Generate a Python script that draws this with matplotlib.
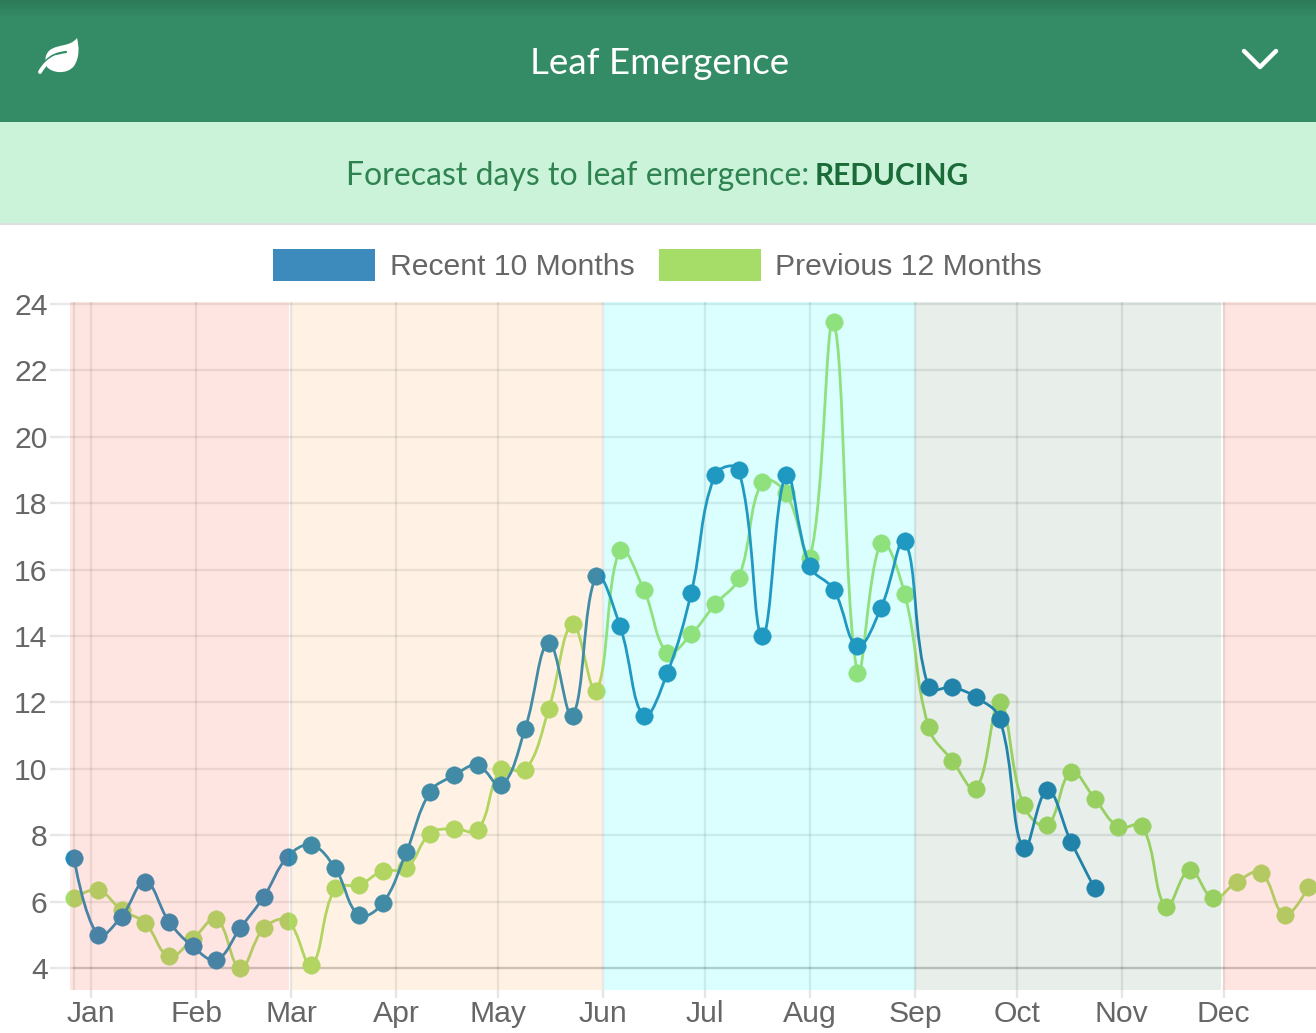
import numpy as np
import matplotlib
matplotlib.use("Agg")
import matplotlib.pyplot as plt
from matplotlib.colors import LinearSegmentedColormap
from matplotlib.patches import Patch, PathPatch, Rectangle
from matplotlib.path import Path

W, H = 1316, 1033

months = ["Jan", "Feb", "Mar", "Apr", "May", "Jun", "Jul", "Aug", "Sep", "Oct", "Nov", "Dec"]
month_days = [0, 31, 59, 90, 120, 151, 181, 212, 243, 273, 304, 334]
y_ticks = [4, 6, 8, 10, 12, 14, 16, 18, 20, 22, 24]

# weekly readings, first one is 5 days before 1 Jan
first_day = -5
recent = [7.31, 5.0, 5.55, 6.6, 5.4, 4.65, 4.25, 5.2, 6.15, 7.35, 7.7, 7.0, 5.6, 5.95, 7.5,
          9.3, 9.8, 10.1, 9.5, 11.2, 13.8, 11.6, 15.8, 14.3, 11.6, 12.9, 15.3, 18.85, 19.0,
          14.0, 18.85, 16.1, 15.4, 13.7, 14.85, 16.85, 12.45, 12.45, 12.15, 11.5, 7.6, 9.35,
          7.8, 6.4]
previous = [6.1, 6.35, 5.75, 5.35, 4.35, 4.87, 5.47, 4.0, 5.2, 5.42, 4.1, 6.4, 6.5, 6.92, 7.0,
            8.05, 8.2, 8.15, 10.0, 9.95, 11.8, 14.35, 12.35, 16.6, 15.4, 13.5, 14.05, 14.95,
            15.75, 18.65, 18.3, 16.35, 23.45, 12.9, 16.8, 15.25, 11.25, 10.25, 9.4, 12.0, 8.9,
            8.3, 9.9, 9.1, 8.25, 8.27, 5.85, 6.95, 6.1, 6.6, 6.87, 5.6, 6.45]

# season bands: start day, end day, colour, alpha
bands = [(-6.2, 58.4, "#ff6347", 0.16),
         (59, 150.8, "#ffa030", 0.13),
         (151.2, 243, "#00ffff", 0.14),
         (243, 333.2, "#00501e", 0.09),
         (333.8, 362, "#ff6347", 0.16)]

BLUE = "#2589b8"
GREEN = "#a6dd68"
GREY = "#666666"

# pixel scale of the chart
PX_DAY = 3.391
PX_UNIT = 33.2
AX_L, AX_R, AX_T, AX_B = 58, W, 302, 990


def spline_path(xs, ys, tension=0.4):
    """Bezier through the points, same control points as Chart.js line charts."""
    px = np.array(xs) * PX_DAY
    py = np.array(ys) * PX_UNIT
    n = len(px)
    before = [(px[0], py[0])]
    after = []
    for i in range(n):
        if i == 0:
            after.append((px[0], py[0]))
            continue
        if i == n - 1:
            before.append((px[i], py[i]))
            continue
        d01 = np.hypot(px[i] - px[i - 1], py[i] - py[i - 1])
        d12 = np.hypot(px[i + 1] - px[i], py[i + 1] - py[i])
        s01 = d01 / (d01 + d12)
        s12 = d12 / (d01 + d12)
        dx = px[i + 1] - px[i - 1]
        dy = py[i + 1] - py[i - 1]
        before.append((px[i] - tension * s01 * dx, py[i] - tension * s01 * dy))
        after.append((px[i] + tension * s12 * dx, py[i] + tension * s12 * dy))
    verts = [(px[0], py[0])]
    codes = [Path.MOVETO]
    for i in range(1, n):
        verts += [after[i - 1], before[i], (px[i], py[i])]
        codes += [Path.CURVE4] * 3
    verts = np.array(verts) / [PX_DAY, PX_UNIT]
    return Path(verts, codes)


fig = plt.figure(figsize=(W / 100, H / 100), dpi=100, facecolor="white")

# page furniture in pixel coordinates
bg = fig.add_axes([0, 0, 1, 1])
bg.axis("off")
bg.add_patch(Rectangle((0, 0), W, 122, color="#348c66", lw=0))
shade = np.linspace(0, 1, 18)[:, None]
bg.imshow(shade, extent=(0, W, 18, 0), aspect="auto", zorder=2,
          cmap=LinearSegmentedColormap.from_list("s", ["#2c7a59", "#348c66"]))
bg.set_xlim(0, W)
bg.set_ylim(H, 0)
bg.add_patch(Rectangle((0, 122), W, 101, color="#cbf3da", lw=0))
bg.add_patch(Rectangle((0, 223), W, 2, color="#dedede", lw=0))

bg.text(660, 64, "Leaf Emergence", color="white", fontsize=26.5, family="Lato", ha="center", va="center", zorder=3)
bg.text(346, 176, "Forecast days to leaf emergence:", color="#2f8350", fontsize=23, family="Lato", ha="left", va="center")
bg.text(815, 176, "REDUCING", color="#1b6b39", fontsize=21.5, family="Lato", weight="bold", ha="left", va="center")

# leaf icon
leaf = Path([(77, 38), (70, 47), (58, 44), (50, 50), (44, 55), (45, 62), (47, 67),
             (52, 73), (67, 75), (74, 66), (80, 57), (79, 46), (77, 38)],
            [Path.MOVETO] + [Path.CURVE4] * 12)
bg.add_patch(PathPatch(leaf, fc="white", ec="none", zorder=3))
vein = Path([(45, 62), (51, 55), (58, 53), (66, 52)], [Path.MOVETO] + [Path.CURVE4] * 3)
bg.add_patch(PathPatch(vein, fc="none", ec="#348c66", lw=1.6, capstyle="round", zorder=3))
stem = Path([(40, 72), (44, 65), (49, 60), (56, 57)], [Path.MOVETO] + [Path.CURVE4] * 3)
bg.add_patch(PathPatch(stem, fc="none", ec="white", lw=2.8, capstyle="round", zorder=3))
# chevron
bg.plot([1244, 1260, 1276], [51, 67, 51], color="white", lw=3.2, solid_capstyle="round",
        solid_joinstyle="round", zorder=3)

# chart
ax = fig.add_axes([AX_L / W, 1 - AX_B / H, (AX_R - AX_L) / W, (AX_B - AX_T) / H])
ax.patch.set_alpha(0)
ax.set_xlim((AX_L - 91) / PX_DAY, (AX_R - 91) / PX_DAY)
ax.set_ylim(4 + (968 - AX_B) / PX_UNIT, 4 + (968 - AX_T) / PX_UNIT)

for s in ax.spines.values():
    s.set_visible(False)
ax.set_xticks(month_days, months)
ax.set_yticks(y_ticks)
ax.grid(True, color="#000000", alpha=0.085, lw=1.7)
ax.set_axisbelow(True)
ax.tick_params(axis="both", labelsize=21.7, labelcolor=GREY, color="#e6e6e6", width=1.7, length=6)
ax.tick_params(axis="x", pad=1.5)
ax.tick_params(axis="y", pad=1.5)
for lab in ax.get_xticklabels() + ax.get_yticklabels():
    lab.set_family("Liberation Sans")

xr = [first_day + 7 * i for i in range(len(recent))]
xp = [first_day + 7 * i for i in range(len(previous))]

# axis lines cross at the first reading
ax.axvline(first_day, color="#000000", alpha=0.085, lw=1.7, zorder=1)
ax.plot([first_day, ax.get_xlim()[1]], [y_ticks[0], y_ticks[0]], color="#000000", alpha=0.14, lw=1.7, zorder=1)

for xs, ys, col, z in [(xp, previous, GREEN, 3), (xr, recent, BLUE, 4)]:
    ax.add_patch(PathPatch(spline_path(xs, ys), fc="none", ec=col, lw=2.0, zorder=z))
    ax.plot(xs, ys, ls="none", marker="o", ms=12.6, mfc=col, mec=col, mew=0.3, zorder=z, clip_on=False)

for start, end, col, a in bands:
    ax.axvspan(start, end, color=col, alpha=a, lw=0, zorder=5)

handles = [Patch(fc="#3d8bbc", ec="none"), Patch(fc=GREEN, ec="none")]
leg = fig.legend(handles, ["Recent 10 Months", "Previous 12 Months"], loc="center",
                 bbox_to_anchor=(657.5 / W, 1 - 265 / H), ncols=2, frameon=False,
                 prop={"family": "Liberation Sans", "size": 21.7}, labelcolor=GREY,
                 handlelength=3.4, handleheight=1.25, handletextpad=0.48, columnspacing=0.8)

fig.savefig("out.png", dpi=100)
